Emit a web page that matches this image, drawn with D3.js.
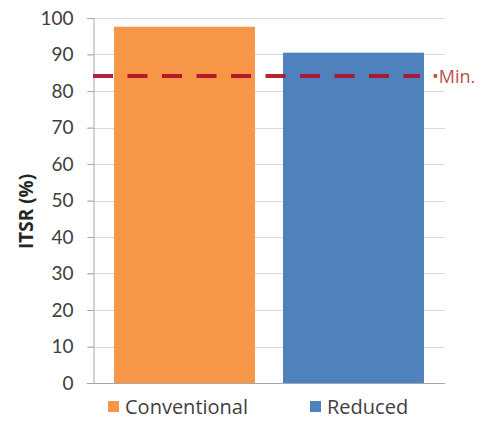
<!DOCTYPE html>
<html>
<head>
<meta charset="utf-8">
<script src="https://cdn.jsdelivr.net/npm/d3@7"></script>
<style>
  html, body { margin: 0; padding: 0; background: #fff; }
  svg { display: block; font-family: "Open Sans", Lato, sans-serif; }
</style>
</head>
<body>
<svg id="chart" width="485" height="421"></svg>
<script>
const categories = ["Conventional", "Reduced"];
const values = [97.6, 90.5];
const colors = ["#F79646", "#4F81BD"];
const minValue = 84.1;
const minLabel = "•Min.";
const yTicks = [0, 10, 20, 30, 40, 50, 60, 70, 80, 90, 100];
const yTitle = "ITSR (%)";

const svg = d3.select("#chart");
const axisX = 93, gridRight = 445;

const y = d3.scaleLinear().domain([0, 100]).range([383, 18]);
const x = d3.scaleBand().domain(categories).range([100, 438])
  .paddingInner(0.166).paddingOuter(0.083);

// gridlines
svg.append("g").selectAll("line").data(yTicks).join("line")
  .attr("x1", axisX - 6).attr("x2", gridRight)
  .attr("y1", d => Math.round(y(d)) + 0.5).attr("y2", d => Math.round(y(d)) + 0.5)
  .attr("stroke", d => d === 0 ? "#a6a6a6" : "#d9d9d9").attr("stroke-width", 1);

// y axis
const yAxis = d3.axisLeft(y).tickValues(yTicks).tickSize(6).tickPadding(14);
const gy = svg.append("g").attr("transform", `translate(${axisX + 0.5},0)`).call(yAxis);
gy.select(".domain").attr("stroke", "#a6a6a6");
gy.selectAll(".tick line").attr("stroke", "#a6a6a6");
gy.selectAll(".tick text").attr("fill", "#404040").style("font-size", "19px")
  .style("font-family", "Lato, 'Open Sans', sans-serif");

// bars
svg.append("g").selectAll("rect").data(categories).join("rect")
  .attr("x", d => x(d)).attr("width", x.bandwidth())
  .attr("y", (d, i) => y(values[i])).attr("height", (d, i) => y(0) - y(values[i]))
  .attr("fill", (d, i) => colors[i]);

// min dashed line
const lineEnd = x(categories[1]) + x.bandwidth() - 4;
svg.append("line")
  .attr("x1", axisX).attr("x2", lineEnd)
  .attr("y1", y(minValue)).attr("y2", y(minValue))
  .attr("stroke", "#B0102A").attr("stroke-opacity", 0.92)
  .attr("stroke-width", 4).attr("stroke-dasharray", "20 14.5");

svg.append("text")
  .attr("x", 432).attr("y", y(minValue)).attr("dy", "0.36em")
  .attr("fill", "#C0504D").style("font-size", "18px")
  .text(minLabel);

// y title
svg.append("text")
  .attr("transform", `translate(33, ${y(47)}) rotate(-90)`)
  .attr("text-anchor", "middle")
  .attr("fill", "#262626").style("font-size", "19px").style("font-weight", "bold")
  .text(yTitle);

// legend
const legendX = [108, 310];
const lg = svg.append("g").selectAll("g").data(categories).join("g")
  .attr("transform", (d, i) => `translate(${legendX[i]}, 401)`);
lg.append("rect").attr("width", 11).attr("height", 11)
  .attr("fill", (d, i) => colors[i]);
lg.append("text").attr("x", 17).attr("y", 13)
  .attr("fill", "#404040").style("font-size", "20px")
  .text(d => d);
</script>
</body>
</html>
